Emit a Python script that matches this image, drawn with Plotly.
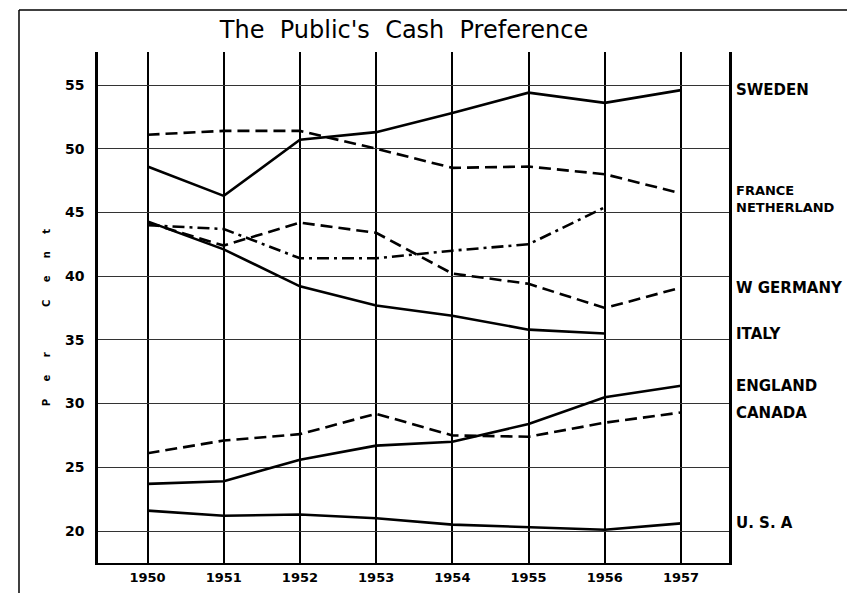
import plotly.graph_objects as go

years = [1950, 1951, 1952, 1953, 1954, 1955, 1956, 1957]

sweden = [48.6, 46.3, 50.7, 51.3, 52.8, 54.4, 53.6, 54.6]
france = [51.1, 51.4, 51.4, 50.0, 48.5, 48.6, 48.0, 46.5]
netherland = [44.0, 43.7, 41.4, 41.4, 42.0, 42.5, 45.4, None]
w_germany = [44.2, 42.4, 44.2, 43.4, 40.2, 39.4, 37.5, 39.1]
italy = [44.3, 42.1, 39.2, 37.7, 36.9, 35.8, 35.5, None]
england = [23.7, 23.9, 25.6, 26.7, 27.0, 28.4, 30.5, 31.4]
canada = [26.1, 27.1, 27.6, 29.2, 27.5, 27.4, 28.5, 29.3]
usa = [21.6, 21.2, 21.3, 21.0, 20.5, 20.3, 20.1, 20.6]

series = [
    ("SWEDEN", sweden, "solid"),
    ("FRANCE", france, "12px,6px"),
    ("NETHERLAND", netherland, "12px,5px,3px,5px"),
    ("W GERMANY", w_germany, "12px,6px"),
    ("ITALY", italy, "solid"),
    ("ENGLAND", england, "solid"),
    ("CANADA", canada, "12px,6px"),
    ("U. S. A", usa, "solid"),
]

y_ticks = [20, 25, 30, 35, 40, 45, 50, 55]

fig = go.Figure()
for name, vals, dash in series:
    fig.add_trace(go.Scatter(
        x=years, y=vals, mode="lines", name=name,
        line=dict(color="black", width=2.6, dash=dash),
        connectgaps=False,
    ))

for name, vals, dash in series:
    last = [v for v in vals if v is not None][-1]
    f = dict(family="DejaVu Sans", size=15, color="black")
    ys = 0
    if name == "FRANCE":
        f["size"] = 13; ys = 3
    if name == "NETHERLAND":
        f["size"] = 13; ys = 0
    fig.add_annotation(
        x=1.008, xref="paper", y=last, yref="y",
        text="<b>" + name + "</b>", showarrow=False,
        xanchor="left", yanchor="middle", yshift=ys, font=f,
    )

NB = "\u00a0"
ytitle = (NB * 5).join("Per") + NB * 13 + (NB * 5).join("Cent")
fig.add_annotation(
    x=-0.0824, xref="paper", y=0.481, yref="paper",
    text="<b>" + ytitle + "</b>", textangle=-90, showarrow=False,
    xanchor="center", yanchor="middle",
    font=dict(family="DejaVu Sans", size=10, color="black"),
)

# Outer frame
fig.add_shape(type="line", xref="paper", yref="paper",
              x0=-0.1252, x1=1.3, y0=1.0822, y1=1.0822,
              line=dict(color="black", width=1.5))
fig.add_shape(type="line", xref="paper", yref="paper",
              x0=-0.1252, x1=-0.1252, y0=-0.1, y1=1.0822,
              line=dict(color="black", width=1.5))

fig.update_layout(
    width=855, height=593,
    margin=dict(l=90, r=134, t=44, b=38),
    paper_bgcolor="white", plot_bgcolor="white",
    showlegend=False,
    title=dict(text="The" + NB * 2 + "Public's" + NB * 2 + "Cash" + NB * 2 + "Preference",
               x=0.485, xref="paper", xanchor="center",
               y=1 - 22 / 593, yanchor="middle",
               font=dict(family="DejaVu Sans", size=24, color="black")),
    xaxis=dict(
        range=[1949.35, 1957.63], tickmode="array", tickvals=years,
        ticktext=["<b>%d</b>" % y for y in years],
        showgrid=True, gridcolor="black", gridwidth=2,
        showline=True, linecolor="black", linewidth=2, mirror=False,
        ticks="", zeroline=False, ticklabelstandoff=1,
        tickfont=dict(family="DejaVu Sans", size=13, color="black"),
    ),
    yaxis=dict(
        range=[17.49, 57.59], tickmode="array", tickvals=y_ticks,
        ticktext=["<b>%d</b>" % v for v in y_ticks],
        showgrid=True, gridcolor="#333333", gridwidth=1,
        showline=True, linecolor="black", linewidth=2.5, mirror=True,
        ticks="", zeroline=False, ticklabelstandoff=8,
        tickfont=dict(family="DejaVu Sans", size=14, color="black"),
    ),
)

fig.write_html("out.html")
